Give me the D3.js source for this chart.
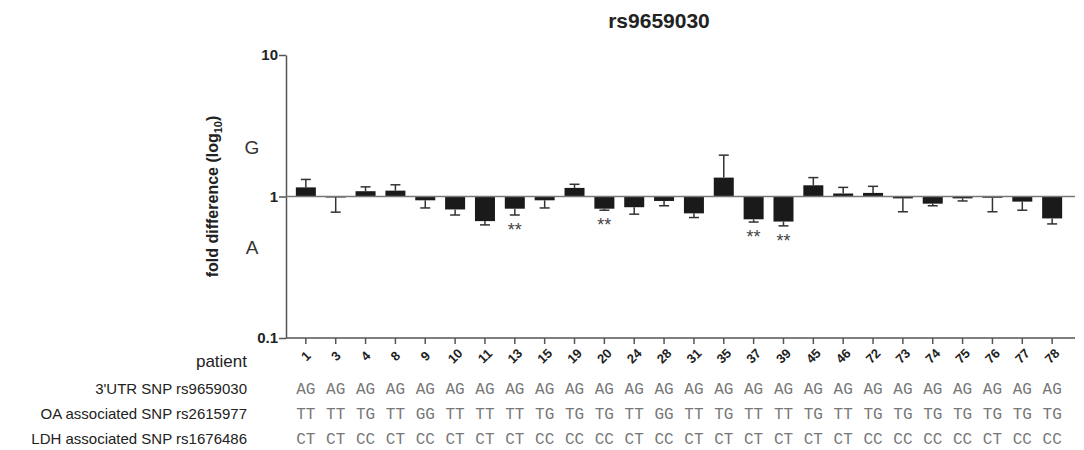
<!DOCTYPE html>
<html>
<head>
<meta charset="utf-8">
<script src="https://cdn.jsdelivr.net/npm/d3@7"></script>
<style>
  body { margin: 0; background: #fff; }
</style>
</head>
<body>
<div id="chart"></div>
<script>
var svgWidth = 1084;
var svgHeight = 450;
var sans = "Liberation Sans, Arial, sans-serif";
var mono = "Liberation Mono, Courier New, monospace";

// chart values
var patients = ["1","3","4","8","9","10","11","13","15","19","20","24","28","31","35","37","39","45","46","72","73","74","75","76","77","78"];
var foldDiff = [1.16,0.99,1.09,1.10,0.94,0.81,0.67,0.82,0.94,1.15,0.82,0.84,0.93,0.76,1.36,0.69,0.665,1.20,1.05,1.06,0.97,0.89,0.97,0.98,0.92,0.70];
// end point of the (one sided) error bar
var errEnd = [1.32,0.775,1.17,1.21,0.83,0.74,0.63,0.74,0.83,1.22,0.80,0.75,0.86,0.71,1.96,0.66,0.62,1.36,1.16,1.18,0.78,0.86,0.93,0.78,0.80,0.64];
var significant = ["13","20","37","39"];
var utrSnp = ["AG","AG","AG","AG","AG","AG","AG","AG","AG","AG","AG","AG","AG","AG","AG","AG","AG","AG","AG","AG","AG","AG","AG","AG","AG","AG"];
var oaSnp = ["TT","TT","TG","TT","GG","TT","TT","TT","TG","TG","TG","TT","GG","TT","TG","TT","TT","TG","TT","TG","TG","TG","TG","TG","TG","TG"];
var ldhSnp = ["CT","CT","CC","CT","CC","CT","CT","CT","CC","CC","CC","CT","CC","CT","CT","CT","CT","CT","CT","CC","CC","CC","CC","CT","CC","CC"];
var rowLabels = ["3'UTR SNP rs9659030","OA associated SNP rs2615977","LDH associated SNP rs1676486"];
var yTicks = [0.1, 1, 10];

var data = patients.map(function(p, i) {
  return { patient: p, value: foldDiff[i], err: errEnd[i], sig: significant.indexOf(p) >= 0 };
});

var svg = d3.select("#chart").append("svg")
  .attr("width", svgWidth)
  .attr("height", svgHeight)
  .attr("font-family", sans);

var x = d3.scaleBand()
  .domain(patients)
  .range([286, 1072])
  .padding(0.33);

var y = d3.scaleLog()
  .domain([0.1, 10])
  .range([338, 55]);

var axisColor = "#555";
var cx = d => x(d) + x.bandwidth() / 2;

// title
svg.append("text")
  .attr("x", 659).attr("y", 28)
  .attr("text-anchor", "middle")
  .attr("font-family", sans)
  .attr("font-size", "21px").attr("font-weight", "bold")
  .attr("fill", "#222")
  .text("rs9659030");

// y axis
var yAxis = svg.append("g")
  .attr("transform", "translate(286,0)")
  .call(d3.axisLeft(y).tickValues(yTicks).tickFormat(d3.format("")).tickSize(7).tickSizeOuter(0));
yAxis.select(".domain").attr("stroke", axisColor).attr("stroke-width", 1.5);
yAxis.selectAll(".tick line").attr("stroke", axisColor).attr("stroke-width", 1.5);
yAxis.selectAll(".tick text")
  .attr("font-size", "15px").attr("font-weight", "bold")
  .attr("font-family", sans)
  .attr("fill", "#222").attr("x", -8);

// y label
svg.append("text")
  .attr("transform", "translate(218," + y(1) + ") rotate(-90)")
  .attr("text-anchor", "middle")
  .attr("font-family", sans)
  .attr("font-size", "16px").attr("font-weight", "bold")
  .attr("fill", "#222")
  .html("fold difference (log<tspan font-size='11px' dy='4'>10</tspan><tspan dy='-4'>)</tspan>");

svg.append("text").attr("x", 252).attr("y", 154)
  .attr("text-anchor", "middle").attr("font-family", sans)
  .attr("font-size", "19px").attr("fill", "#333").text("G");
svg.append("text").attr("x", 252).attr("y", 254)
  .attr("text-anchor", "middle").attr("font-family", sans)
  .attr("font-size", "19px").attr("fill", "#333").text("A");

// bottom axis at 0.1
var xAxis = svg.append("g")
  .attr("transform", "translate(0," + y(0.1) + ")")
  .call(d3.axisBottom(x).tickSize(6).tickSizeOuter(0).tickFormat(""));
xAxis.select(".domain").attr("stroke", axisColor).attr("stroke-width", 1.5)
  .attr("d", "M286,0H1075");
xAxis.selectAll(".tick line").attr("stroke", axisColor).attr("stroke-width", 1.5);

// rotated patient labels (css transform)
patients.forEach(function(p) {
  svg.append("text")
    .attr("x", 0).attr("y", 0)
    .style("transform", "translate(" + cx(p) + "px,356px) rotate(-45deg)")
    .attr("text-anchor", "middle")
    .attr("dy", "0.35em")
    .attr("font-family", sans)
    .attr("font-size", "13px").attr("font-weight", "bold")
    .attr("fill", "#222")
    .text(p);
});

// bars from 1
var bars = svg.append("g");
bars.selectAll("rect")
  .data(data)
  .enter()
  .append("rect")
  .attr("x", d => x(d.patient))
  .attr("width", x.bandwidth())
  .attr("y", d => Math.min(y(d.value), y(1)))
  .attr("height", d => Math.max(Math.abs(y(d.value) - y(1)), 1))
  .attr("fill", "#1a1a1a");

// error bars
var errs = svg.append("g").attr("stroke", "#333").attr("stroke-width", 1.5);
errs.selectAll("line.stem")
  .data(data)
  .enter()
  .append("line")
  .attr("x1", d => cx(d.patient))
  .attr("x2", d => cx(d.patient))
  .attr("y1", d => y(d.value))
  .attr("y2", d => y(d.err));
errs.selectAll("line.cap")
  .data(data)
  .enter()
  .append("line")
  .attr("x1", d => cx(d.patient) - 5)
  .attr("x2", d => cx(d.patient) + 5)
  .attr("y1", d => y(d.err))
  .attr("y2", d => y(d.err));

// line at 1
svg.append("line")
  .attr("x1", 286).attr("x2", 1075)
  .attr("y1", y(1)).attr("y2", y(1))
  .attr("stroke", "#777").attr("stroke-width", 1.5);

// significance stars
svg.append("g").selectAll("text")
  .data(data.filter(d => d.sig))
  .enter()
  .append("text")
  .attr("x", d => cx(d.patient))
  .attr("y", d => y(d.err) + 21)
  .attr("text-anchor", "middle")
  .attr("font-family", sans)
  .attr("font-size", "18px")
  .attr("fill", "#444")
  .text("**");

// genotype table
svg.append("text").attr("x", 247).attr("y", 367)
  .attr("text-anchor", "end").attr("font-family", sans)
  .attr("font-size", "17px").attr("fill", "#222").text("patient");

var rows = [utrSnp, oaSnp, ldhSnp];
var rowY = [394, 419, 444];
rows.forEach(function(row, r) {
  svg.append("text").attr("x", 247).attr("y", rowY[r])
    .attr("text-anchor", "end").attr("font-family", sans)
    .attr("font-size", "15px").attr("fill", "#222")
    .text(rowLabels[r]);
  svg.append("g").selectAll("text")
    .data(row)
    .enter()
    .append("text")
    .attr("x", (d, i) => cx(patients[i]))
    .attr("y", rowY[r])
    .attr("text-anchor", "middle")
    .attr("font-family", mono)
    .attr("font-size", "16px")
    .attr("fill", "#777")
    .text(d => d);
});
</script>
</body>
</html>
